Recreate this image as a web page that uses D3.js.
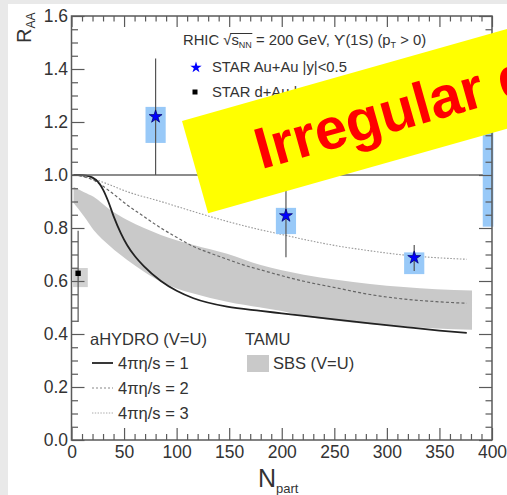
<!DOCTYPE html>
<html>
<head>
<meta charset="utf-8">
<script src="https://cdn.jsdelivr.net/npm/d3@7"></script>
<style>
  html, body { margin: 0; padding: 0; background: #e9e9e9; }
  svg { display: block; }
  text { font-family: "Liberation Sans", Arial, Helvetica, sans-serif; }
</style>
</head>
<body>
<svg id="chart" width="507" height="495"></svg>
<script>
// ---------------- data ----------------
const xTicks = [0, 50, 100, 150, 200, 250, 300, 350, 400];
const yTicks = [0.0, 0.2, 0.4, 0.6, 0.8, 1.0, 1.2, 1.4, 1.6];

// STAR Au+Au |y|<0.5
const auNpart  = [80, 204, 326];
const auR      = [1.22, 0.846, 0.688];
const auStatLo = [1.0, 0.69, 0.638];
const auStatHi = [1.44, 1.0, 0.736];
const auSysLo  = [1.121, 0.777, 0.626];
const auSysHi  = [1.257, 0.876, 0.708];
const auSysHalfWidth = 9.6;

// STAR d+Au
const dAuNpart = [6.3];
const dAuR     = [0.629];
const dAuStatLo = [0.445];
const dAuStatHi = [0.79];
const dAuSysLo  = [0.577];
const dAuSysHi  = [0.649];
const dAuSysNpartLo = [1.5];
const dAuSysNpartHi = [15.5];

// global uncertainty box
const globalNpart = [391.2, 401.3];
const globalR     = [0.805, 1.195];

// aHYDRO 4πη/s = 1
const hyd1Npart = [2, 8, 14, 20, 25, 30, 35, 40, 47, 53, 60, 69, 85, 100, 116, 148, 180, 200, 250, 284, 320, 350, 376];
const hyd1R     = [1.0, 1.0, 0.998, 0.99, 0.975, 0.945, 0.9, 0.845, 0.78, 0.735, 0.695, 0.655, 0.60, 0.563, 0.535, 0.503, 0.487, 0.478, 0.455, 0.44, 0.425, 0.413, 0.404];
// aHYDRO 4πη/s = 2
const hyd2Npart = [2, 10, 21, 37, 53, 69, 85, 100, 116, 132, 148, 164, 180, 200, 221, 252, 284, 316, 347, 376];
const hyd2R     = [1.0, 0.995, 0.98, 0.937, 0.887, 0.843, 0.80, 0.765, 0.73, 0.705, 0.682, 0.66, 0.642, 0.62, 0.599, 0.574, 0.549, 0.532, 0.522, 0.516];
// aHYDRO 4πη/s = 3
const hyd3Npart = [2, 8.5, 21, 37, 53, 85, 116, 148, 180, 195, 221, 252, 284, 316, 347, 376];
const hyd3R     = [1.0, 0.997, 0.985, 0.962, 0.937, 0.90, 0.862, 0.825, 0.793, 0.78, 0.757, 0.733, 0.714, 0.698, 0.688, 0.682];

// TAMU SBS (V=U) band
const sbsNpart = [2, 12, 21, 37, 53, 69, 85, 100, 116, 148, 180, 200, 221, 252, 284, 316, 347, 381];
const sbsHigh  = [0.956, 0.935, 0.918, 0.868, 0.83, 0.80, 0.774, 0.754, 0.736, 0.703, 0.66, 0.641, 0.624, 0.605, 0.589, 0.577, 0.569, 0.564];
const sbsLow   = [0.894, 0.843, 0.792, 0.73, 0.679, 0.635, 0.597, 0.572, 0.553, 0.522, 0.50, 0.487, 0.468, 0.45, 0.437, 0.428, 0.421, 0.416];

// ---------------- drawing ----------------
const svg = d3.select("#chart");
const W = 507, H = 495;

// page background (slide) and white panel
svg.append("rect").attr("x", 0).attr("y", 0).attr("width", W).attr("height", H).attr("fill", "#e9e9e9");
svg.append("rect").attr("x", 8).attr("y", 4).attr("width", W - 8).attr("height", H - 4).attr("fill", "#ffffff");

const x = d3.scaleLinear().domain([0, 400]).range([71.5, 492]);
const y = d3.scaleLinear().domain([0, 1.6]).range([440, 16]);

const TXT = "#333";
const AX = "#5a5a5a";

// TAMU band
const band = sbsNpart.map((n, i) => ({ n, lo: sbsLow[i], hi: sbsHigh[i] }));
svg.append("path")
  .datum(band)
  .attr("fill", "#c9c9c9")
  .attr("d", d3.area().x(d => x(d.n)).y0(d => y(d.lo)).y1(d => y(d.hi)).curve(d3.curveMonotoneX));

// curves
const line = d3.line().x(d => x(d[0])).y(d => y(d[1])).curve(d3.curveMonotoneX);
svg.append("path").datum(hyd3Npart.map((n, i) => [n, hyd3R[i]]))
  .attr("fill", "none").attr("stroke", "#9a9a9a").attr("stroke-width", 1.1).attr("stroke-dasharray", "1.6,1.6")
  .attr("d", line);
svg.append("path").datum(hyd2Npart.map((n, i) => [n, hyd2R[i]]))
  .attr("fill", "none").attr("stroke", "#666").attr("stroke-width", 1.2).attr("stroke-dasharray", "3,2.2")
  .attr("d", line);
svg.append("path").datum(hyd1Npart.map((n, i) => [n, hyd1R[i]]))
  .attr("fill", "none").attr("stroke", "#222").attr("stroke-width", 1.8)
  .attr("d", line);

// R = 1 line
svg.append("line")
  .attr("x1", x(0)).attr("x2", x(400)).attr("y1", y(1)).attr("y2", y(1))
  .attr("stroke", "#666").attr("stroke-width", 1.3);

// systematic boxes
const BLUE_BOX = "#98c9f8";
svg.selectAll("rect.sys").data(auNpart).enter().append("rect")
  .attr("class", "sys")
  .attr("x", d => x(d - auSysHalfWidth))
  .attr("width", d => x(d + auSysHalfWidth) - x(d - auSysHalfWidth))
  .attr("y", (d, i) => y(auSysHi[i]))
  .attr("height", (d, i) => y(auSysLo[i]) - y(auSysHi[i]))
  .attr("fill", BLUE_BOX);

svg.append("rect")
  .attr("x", x(globalNpart[0])).attr("width", x(globalNpart[1]) - x(globalNpart[0]))
  .attr("y", y(globalR[1])).attr("height", y(globalR[0]) - y(globalR[1]))
  .attr("fill", BLUE_BOX);

svg.selectAll("rect.dsys").data(dAuNpart).enter().append("rect")
  .attr("class", "dsys")
  .attr("x", (d, i) => x(dAuSysNpartLo[i]))
  .attr("width", (d, i) => x(dAuSysNpartHi[i]) - x(dAuSysNpartLo[i]))
  .attr("y", (d, i) => y(dAuSysHi[i]))
  .attr("height", (d, i) => y(dAuSysLo[i]) - y(dAuSysHi[i]))
  .attr("fill", "#d2d2d2");

// stat error bars
svg.selectAll("line.stat").data(auNpart).enter().append("line")
  .attr("class", "stat")
  .attr("x1", d => x(d)).attr("x2", d => x(d))
  .attr("y1", (d, i) => y(auStatHi[i])).attr("y2", (d, i) => y(auStatLo[i]))
  .attr("stroke", "#555").attr("stroke-width", 1.2);
svg.selectAll("line.dstat").data(dAuNpart).enter().append("line")
  .attr("class", "dstat")
  .attr("x1", d => x(d)).attr("x2", d => x(d))
  .attr("y1", (d, i) => y(dAuStatHi[i])).attr("y2", (d, i) => y(dAuStatLo[i]))
  .attr("stroke", "#555").attr("stroke-width", 1.2);

// markers
const star = d3.symbol().type(d3.symbolStar).size(52);
svg.selectAll("path.star").data(auNpart).enter().append("path")
  .attr("class", "star")
  .attr("transform", (d, i) => `translate(${x(d)},${y(auR[i])})`)
  .attr("d", star)
  .attr("fill", "#0000ff").attr("stroke", "#000066").attr("stroke-width", 0.7);
svg.selectAll("rect.dau").data(dAuNpart).enter().append("rect")
  .attr("class", "dau")
  .attr("x", d => x(d) - 2.7).attr("y", (d, i) => y(dAuR[i]) - 2.7)
  .attr("width", 5.4).attr("height", 5.4).attr("fill", "#000");

// ---------- axes ----------
function styleAxis(g, showText) {
  g.select(".domain").remove();
  g.selectAll(".tick line").attr("stroke", AX).attr("stroke-width", 1.2);
  if (!showText) g.selectAll(".tick text").remove();
  else g.selectAll(".tick text").attr("fill", TXT).attr("font-size", "17.5px")
      .attr("font-family", "'Liberation Sans', Arial, sans-serif");
}
const xMinor = d3.range(0, 401, 10).filter(v => v % 50 !== 0);
const yMinor = d3.range(0, 1.601, 0.05).map(v => +v.toFixed(2)).filter(v => Math.round(v * 100) % 20 !== 0);

// bottom
svg.append("g").attr("transform", `translate(0,${y(0)})`)
  .call(d3.axisBottom(x).tickValues(xTicks).tickSizeInner(-12).tickSizeOuter(0).tickPadding(6).tickFormat(d3.format("d")))
  .call(g => styleAxis(g, true));
svg.append("g").attr("transform", `translate(0,${y(0)})`)
  .call(d3.axisBottom(x).tickValues(xMinor).tickSizeInner(-6).tickSizeOuter(0).tickFormat(""))
  .call(g => styleAxis(g, false));
// top
svg.append("g").attr("transform", `translate(0,${y(1.6)})`)
  .call(d3.axisTop(x).tickValues(xTicks).tickSizeInner(-11).tickSizeOuter(0).tickFormat(""))
  .call(g => styleAxis(g, false));
svg.append("g").attr("transform", `translate(0,${y(1.6)})`)
  .call(d3.axisTop(x).tickValues(xMinor).tickSizeInner(-5.5).tickSizeOuter(0).tickFormat(""))
  .call(g => styleAxis(g, false));
// left
svg.append("g").attr("transform", `translate(${x(0)},0)`)
  .call(d3.axisLeft(y).tickValues(yTicks).tickSizeInner(-13).tickSizeOuter(0).tickPadding(3.5).tickFormat(d3.format(".1f")))
  .call(g => styleAxis(g, true));
svg.append("g").attr("transform", `translate(${x(0)},0)`)
  .call(d3.axisLeft(y).tickValues(yMinor).tickSizeInner(-6.5).tickSizeOuter(0).tickFormat(""))
  .call(g => styleAxis(g, false));
// right
svg.append("g").attr("transform", `translate(${x(400)},0)`)
  .call(d3.axisRight(y).tickValues(yTicks).tickSizeInner(-13).tickSizeOuter(0).tickFormat(""))
  .call(g => styleAxis(g, false));
svg.append("g").attr("transform", `translate(${x(400)},0)`)
  .call(d3.axisRight(y).tickValues(yMinor).tickSizeInner(-6.5).tickSizeOuter(0).tickFormat(""))
  .call(g => styleAxis(g, false));

// frame
svg.append("rect")
  .attr("x", x(0)).attr("y", y(1.6))
  .attr("width", x(400) - x(0)).attr("height", y(0) - y(1.6))
  .attr("fill", "none").attr("stroke", AX).attr("stroke-width", 1.5);

// axis titles
const xt = svg.append("text").attr("x", 258).attr("y", 487).attr("fill", TXT).attr("font-size", "25px");
xt.append("tspan").text("N");
xt.append("tspan").attr("font-size", "13px").attr("dy", 6).text("part");

const yt = svg.append("text").attr("transform", "translate(31,43) rotate(-90)").attr("fill", TXT).attr("font-size", "20px");
yt.append("tspan").text("R");
yt.append("tspan").attr("font-size", "12px").attr("dy", 4).text("AA");

// ---------- top legend ----------
const LF = "14.8px";
const hdr = svg.append("text").attr("x", 183).attr("y", 45).attr("fill", TXT).attr("font-size", LF);
hdr.append("tspan").text("RHIC ");
const rad = hdr.append("tspan").text("\u221A");
const sTs = hdr.append("tspan").text("s");
const nnTs = hdr.append("tspan").attr("font-size", "9px").attr("dy", 3).text("NN");
hdr.append("tspan").attr("dy", -3).text(" = 200 GeV, \u03D2(1S) (p");
hdr.append("tspan").attr("font-size", "9px").attr("dy", 3).text("T");
hdr.append("tspan").attr("dy", -3).text(" > 0)");
// overline of the square root
{
  const sx = sTs.node().getStartPositionOfChar(0).x;
  const nnNode = nnTs.node();
  const ex = nnNode.getStartPositionOfChar(1).x + nnNode.getSubStringLength(1, 1);
  svg.append("line").attr("x1", sx - 1).attr("x2", ex + 0.5).attr("y1", 33.5).attr("y2", 33.5)
    .attr("stroke", TXT).attr("stroke-width", 1);
}

svg.append("path").attr("transform", "translate(196,67.5)")
  .attr("d", d3.symbol().type(d3.symbolStar).size(40))
  .attr("fill", "#0000ff");
svg.append("text").attr("x", 212).attr("y", 72).attr("fill", TXT).attr("font-size", LF).text("STAR Au+Au |y|<0.5");
svg.append("rect").attr("x", 192.5).attr("y", 89.5).attr("width", 5).attr("height", 5).attr("fill", "#000");
svg.append("text").attr("x", 212).attr("y", 97).attr("fill", TXT).attr("font-size", LF).text("STAR d+Au |y|<1.0");

// ---------- bottom legend ----------
const BF = "16.5px";
svg.append("text").attr("x", 90).attr("y", 345).attr("fill", TXT).attr("font-size", BF).text("aHYDRO (V=U)");
svg.append("line").attr("x1", 92).attr("x2", 113).attr("y1", 363).attr("y2", 363).attr("stroke", "#222").attr("stroke-width", 1.8);
svg.append("text").attr("x", 118).attr("y", 369).attr("fill", TXT).attr("font-size", BF).text("4\u03C0\u03B7/s = 1");
svg.append("line").attr("x1", 92).attr("x2", 113).attr("y1", 388).attr("y2", 388).attr("stroke", "#888").attr("stroke-width", 1.2).attr("stroke-dasharray", "2,2");
svg.append("text").attr("x", 118).attr("y", 394).attr("fill", TXT).attr("font-size", BF).text("4\u03C0\u03B7/s = 2");
svg.append("line").attr("x1", 92).attr("x2", 113).attr("y1", 413).attr("y2", 413).attr("stroke", "#aaa").attr("stroke-width", 1).attr("stroke-dasharray", "1.4,1.4");
svg.append("text").attr("x", 118).attr("y", 419).attr("fill", TXT).attr("font-size", BF).text("4\u03C0\u03B7/s = 3");
svg.append("text").attr("x", 245).attr("y", 345).attr("fill", TXT).attr("font-size", BF).text("TAMU");
svg.append("rect").attr("x", 247).attr("y", 355).attr("width", 22).attr("height", 17).attr("fill", "#c9c9c9");
svg.append("text").attr("x", 273).attr("y", 369).attr("fill", TXT).attr("font-size", BF).text("SBS (V=U)");

// ---------- banner overlay ----------
const banner = svg.append("g").attr("transform", "translate(182,121) rotate(-15.8)");
banner.append("rect").attr("x", 0).attr("y", 0).attr("width", 540).attr("height", 96).attr("fill", "#ffff00");
banner.append("text").attr("x", 63).attr("y", 68)
  .attr("fill", "#ff0000").attr("font-size", "58px").attr("font-weight", "bold")
  .text("Irregular data");
</script>
</body>
</html>
